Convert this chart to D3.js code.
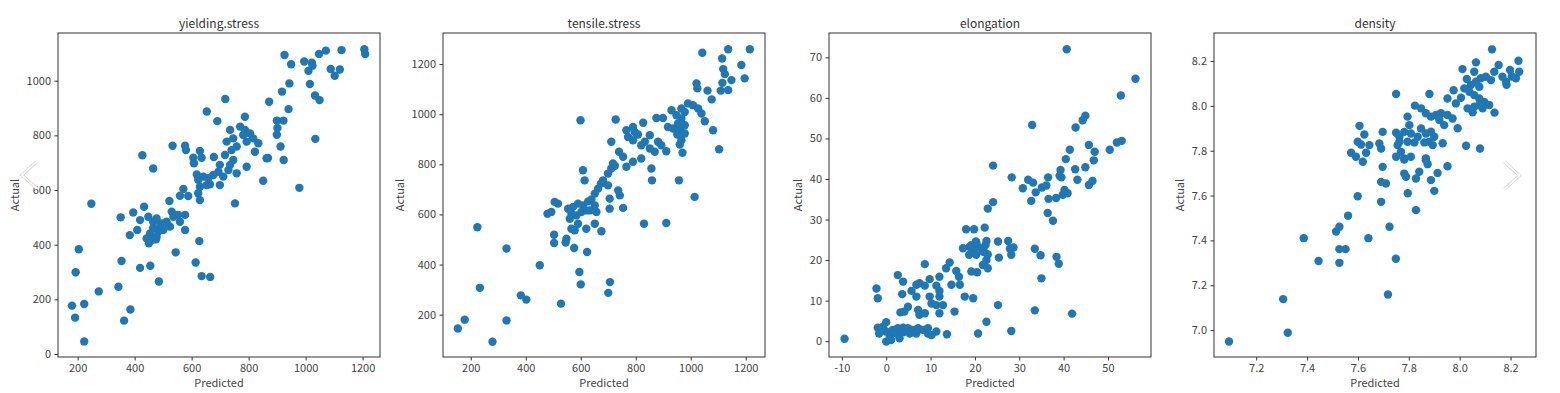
<!DOCTYPE html>
<html>
<head>
<meta charset="utf-8">
<script src="https://cdn.jsdelivr.net/npm/d3@7/dist/d3.min.js"></script>
<style>
  html, body { margin: 0; padding: 0; background: #fff; }
  svg { display: block; }
  text { font-family: "Noto Sans CJK KR", "Noto Sans", sans-serif; }
</style>
</head>
<body>
<svg id="chart" width="1560" height="393"></svg>
<script>
// ---------------- DATA ----------------
const titles = ["yielding.stress", "tensile.stress", "elongation", "density"];

// [predicted, actual]
const yieldingStress = [
[1206,1115],[1209,1098],[1126,1112],[1071,1110],[1047,1098],[926,1094],[949,1060],[995,1070],[1022,1066],[1010,1036],[1024,1055],[1088,1043],[1120,1041],[1102,1018],[1015,988],[943,990],[917,960],[1033,946],[1049,929],[872,923],[940,896],[718,933],[653,887],[899,854],[922,854],[901,827],[899,802],[1034,787],[912,759],[923,710],[868,717],[978,608],[351,500],[544,372],[354,340],[419,315],[455,323],[614,335],[635,285],[665,282],[485,265],[343,246],[274,229],[248,550],[204,383],[193,299],[180,177],[223,183],[191,133],[385,163],[363,122],[223,46],
[690,852],[787,868],[735,820],[770,832],[787,820],[805,807],[781,801],[816,789],[793,777],[746,789],[723,777],[758,759],[740,746],[834,771],[822,740],[863,716],[793,685],[851,634],[758,661],[752,551],[427,727],[465,679],[533,762],[577,762],[580,746],[629,743],[635,718],[606,718],[608,698],[678,721],[717,728],[746,710],[735,692],[699,692],[694,667],[711,649],[676,655],[658,643],[641,649],[618,657],[623,637],[629,612],[653,618],[664,621],[699,618],[729,673],[571,604],[559,579],[588,578],[623,588],[629,563],[522,560],[530,521],[433,539],[395,518],[419,490],[448,502],[465,484],[477,496],[495,478],[512,484],[536,502],[553,509],[577,509],[559,484],[524,466],[500,454],[483,448],[465,460],[454,441],[442,423],[460,417],[477,429],[409,454],[577,454],[627,413],[383,435],[450,405],[475,420],[490,470],[515,468]
];

const tensileStress = [
[1215,1259],[1136,1259],[1042,1245],[1114,1222],[1118,1180],[1124,1160],[1148,1136],[1115,1125],[1136,1096],[1109,1094],[1184,1196],[1196,1143],[1021,1123],[1024,1103],[1061,1094],[1076,1059],[1081,936],[1103,860],[970,846],[827,966],[727,979],[599,976],[711,890],[739,850],[224,549],[233,307],[330,464],[451,397],[382,277],[402,260],[528,244],[330,177],[178,180],[153,145],[279,92],[595,370],[600,321],[700,287],[706,330],[623,450],[576,466],[545,488],[503,486],
[990,1043],[1008,1036],[966,1023],[978,1009],[930,1016],[948,996],[966,983],[954,963],[978,956],[936,943],[917,949],[960,936],[951,919],[978,923],[966,896],[960,879],[1039,1003],[1051,972],[1027,1023],[875,985],[899,985],[766,936],[790,949],[796,929],[772,909],[790,896],[808,919],[851,916],[833,890],[820,876],[851,863],[881,890],[893,876],[869,850],[911,852],[754,830],[717,803],[711,783],[724,794],[699,763],[681,736],[673,723],[663,703],[651,683],[639,660],[627,652],[608,636],[590,643],[572,630],[554,623],[566,603],[584,596],[602,610],[620,616],[651,636],[657,610],[633,616],[517,643],[505,650],[493,610],[479,603],[560,583],[590,563],[566,543],[578,537],[620,543],[651,563],[675,533],[705,623],[754,626],[699,716],[736,696],[742,676],[705,663],[614,736],[608,776],[766,790],[790,810],[820,823],[857,783],[859,736],[957,736],[1014,670],[830,563],[911,566],[503,519],[548,503]
];

const elongation = [
[40.7,72.0],[56.2,64.7],[52.9,60.6],[32.9,53.3],[44.9,55.6],[44.3,54.5],[42.7,52.7],[53.1,49.4],[52.0,49.0],[50.4,47.2],[41.4,47.2],[45.7,48.4],[47.0,46.7],[46.8,44.6],[40.5,44.9],[44.9,42.9],[42.6,42.4],[43.1,39.8],[39.3,42.2],[39.1,40.8],[39.5,40.4],[46.5,39.5],[45.7,38.5],[40.2,37.3],[40.9,36.5],[39.8,36.1],[38.3,35.3],[36.5,40.4],[32.0,39.8],[33.1,39.1],[30.8,37.7],[33.7,36.7],[32.7,34.6],[35.1,37.9],[36.1,38.4],[36.6,35.1],[36.4,31.6],[37.6,29.7],[28.3,40.4],[24.1,43.3],[24.1,34.3],[22.9,32.7],[33.5,22.8],[34.8,21.2],[38.4,20.8],[38.9,19.1],[35.0,15.5],[33.5,7.6],[41.9,6.8],[-9.4,0.6],[27.9,22.8],[18.0,27.6],[19.8,27.6],[22.2,28.0],
[22.6,24.7],[20.2,24.6],[18.8,23.3],[17.3,22.9],[20.7,23.3],[19.6,22.3],[20.3,21.3],[22.2,21.9],[22.6,20.0],[21.8,18.8],[22.9,18.0],[18.7,21.3],[25.2,24.6],[27.5,24.7],[28.7,23.1],[28.2,21.3],[25.4,20.6],[19.2,17.2],[20.5,17.0],[8.7,19.0],[14.3,19.4],[13.5,18.0],[15.8,17.3],[16.4,15.9],[12.0,15.9],[9.8,15.3],[7.5,14.3],[6.8,13.9],[8.7,13.7],[11.3,13.7],[12.0,12.4],[14.7,13.9],[16.6,13.9],[2.6,16.3],[3.8,14.7],[-2.2,13.0],[-1.9,10.6],[3.6,11.6],[5.7,12.4],[6.8,11.0],[9.8,11.0],[12.0,11.0],[10.2,9.3],[11.3,8.9],[4.9,8.5],[4.1,7.3],[3.2,7.1],[7.2,7.7],[7.5,6.5],[8.7,6.9],[12.0,6.9],[12.8,8.9],[15.4,7.3],[17.7,11.0],[19.6,10.6],[25.2,8.9],[22.6,4.8],[20.7,1.9],[13.7,1.7],[28.2,2.5],
[0.0,4.7],[-0.7,3.6],[-1.9,3.3],[-1.6,1.9],[0.0,2.4],[0.8,1.1],[1.5,2.8],[2.6,3.2],[3.8,3.3],[4.9,3.2],[6.0,2.8],[7.2,3.2],[8.3,2.8],[9.4,3.2],[9.4,1.9],[6.8,1.9],[5.3,1.9],[3.8,2.2],[2.3,1.9],[1.1,0.3],[0.0,-0.1],[11.3,2.4],[10.2,1.5],[3.0,0.7],
[20.3,24.4],[22.4,23.7],[21.8,22.1],[22.9,21.4],[19.2,23.7]
];

const density = [
[7.093,6.949],[7.306,7.138],[7.324,6.988],[7.387,7.410],[7.445,7.308],[7.514,7.440],[7.527,7.461],[7.527,7.361],[7.551,7.361],[7.527,7.300],[7.561,7.510],[7.641,7.410],[7.724,7.461],[7.749,7.318],[7.718,7.159],[7.750,8.053],[7.881,8.053],[8.127,8.252],[8.231,8.201],[8.234,8.152],[8.221,8.123],[8.153,8.182],[8.198,8.160],[8.205,8.131],[8.184,8.094],[8.137,7.970],[8.080,7.810],[8.025,7.822],[7.992,7.900],[7.796,7.610],
[8.064,8.194],[8.011,8.164],[8.057,8.152],[8.136,8.152],[8.168,8.130],[8.182,8.108],[8.028,8.120],[8.044,8.093],[8.064,8.108],[8.083,8.123],[8.103,8.130],[8.123,8.115],[8.077,8.085],[8.018,8.078],[8.038,8.063],[8.057,8.048],[8.077,8.033],[8.096,8.018],[8.116,8.004],[8.077,8.004],[8.057,7.996],[8.031,7.989],[8.051,7.971],[8.090,7.989],[7.976,8.070],[7.952,8.033],[7.985,8.011],[8.005,8.036],[7.824,8.001],[7.848,7.989],[7.867,7.967],[7.887,7.952],[7.907,7.959],[7.926,7.967],[7.952,7.959],[7.972,7.944],[7.920,7.937],[7.939,7.914],[7.795,7.952],[7.802,7.914],[7.782,7.884],[7.808,7.877],[7.835,7.862],[7.848,7.899],[7.867,7.877],[7.887,7.885],[7.900,7.862],[7.880,7.840],[7.861,7.837],[7.822,7.837],[7.795,7.840],[7.763,7.862],[7.756,7.825],[7.769,7.795],[7.894,7.825],[7.933,7.833],[7.782,7.766],[7.867,7.766],
[7.606,7.911],[7.625,7.872],[7.599,7.840],[7.612,7.828],[7.645,7.825],[7.573,7.791],[7.592,7.773],[7.619,7.751],[7.632,7.791],[7.684,7.832],[7.691,7.810],[7.697,7.884],[7.750,7.880],[7.763,7.840],[7.750,7.773],[7.782,7.761],[7.808,7.773],[7.697,7.728],[7.691,7.661],[7.710,7.654],[7.599,7.597],[7.691,7.572],[7.828,7.535],[7.782,7.698],[7.789,7.684],[7.841,7.706],[7.828,7.676],[7.867,7.758],[7.874,7.740],[7.913,7.701],[7.887,7.669],[7.900,7.621],[7.952,7.731]
];

const xTicks = [
  [200,400,600,800,1000,1200],
  [200,400,600,800,1000,1200],
  [-10,0,10,20,30,40,50],
  [7.2,7.4,7.6,7.8,8.0,8.2]
];
const yTicks = [
  [0,200,400,600,800,1000],
  [200,400,600,800,1000,1200],
  [0,10,20,30,40,50,60,70],
  [7.0,7.2,7.4,7.6,7.8,8.0,8.2]
];
const xDomains = [[131,1261],[99,1270],[-12.9,59.7],[7.034,8.300]];
const yDomains = [[-11,1174.5],[31,1324],[-3.9,76],[6.88,8.325]];
const tickDecimals = [0,0,0,1];

const xLabel = "Predicted";
const yLabel = "Actual";

// ---------------- LAYOUT ----------------
const series = [yieldingStress, tensileStress, elongation, density];
const lefts = [58, 443, 829, 1214];
const plotW = 322, plotTop = 33, plotH = 324;
const dotColor = "#1f77b4";
const ink = "#333";

const svg = d3.select("#chart");
svg.append("rect").attr("width",1560).attr("height",393).attr("fill","#fff");

series.forEach((pts, i) => {
  const x = d3.scaleLinear().domain(xDomains[i]).range([0, plotW]);
  const y = d3.scaleLinear().domain(yDomains[i]).range([plotH, 0]);
  const fmt = v => {
    const s = v.toFixed(tickDecimals[i]);
    return s;
  };
  const g = svg.append("g").attr("transform", `translate(${lefts[i]},${plotTop})`);

  // points
  g.append("g").selectAll("circle").data(pts).join("circle")
    .attr("cx", d => x(d[0]))
    .attr("cy", d => y(d[1]))
    .attr("r", 4.2)
    .attr("fill", dotColor);

  // frame
  g.append("rect").attr("x",0).attr("y",0).attr("width",plotW).attr("height",plotH)
    .attr("fill","none").attr("stroke",ink).attr("stroke-width",1);

  // axes
  const xa = g.append("g").attr("transform",`translate(0,${plotH})`)
    .call(d3.axisBottom(x).tickValues(xTicks[i]).tickFormat(fmt).tickSize(3.5).tickPadding(3.5));
  const ya = g.append("g")
    .call(d3.axisLeft(y).tickValues(yTicks[i]).tickFormat(fmt).tickSize(3.5).tickPadding(3.5));
  [xa, ya].forEach(a => {
    a.select(".domain").remove();
    a.selectAll(".tick line").attr("stroke", ink);
    a.selectAll(".tick text").attr("fill", "#444")
      .style("font-size","11px")
      .style("font-family",'"Noto Sans CJK KR", "Noto Sans", sans-serif');
  });

  // title
  g.append("text").attr("x", plotW/2).attr("y", -5).attr("text-anchor","middle")
    .attr("fill", ink).style("font-size","12px").text(titles[i]);

  // x label
  g.append("text").attr("x", plotW/2).attr("y", plotH + 30).attr("text-anchor","middle")
    .attr("fill", "#444").style("font-size","11px").text(xLabel);

  // y label
  let maxW = 0;
  ya.selectAll(".tick text").each(function(){ maxW = Math.max(maxW, this.getBBox().width); });
  const lx = -(maxW + 20);
  g.append("text").attr("transform",`translate(${lx},${plotH/2}) rotate(-90)`)
    .attr("text-anchor","middle").attr("dominant-baseline","central")
    .attr("fill", "#444").style("font-size","11px").text(yLabel);
});

// carousel chevrons overlay
const chev = [
  [[36.7,161.7],[22,175],[36.7,188.3]],
  [[1504.3,161.7],[1519.5,175.5],[1504.3,189.3]]
];
chev.forEach(c => {
  svg.append("path").attr("d", d3.line()(c)).attr("fill","none")
    .attr("stroke","#d9d9d9").attr("stroke-width",3.2).attr("stroke-linejoin","miter");
  svg.append("path").attr("d", d3.line()(c)).attr("fill","none")
    .attr("stroke","#ffffff").attr("stroke-width",1.6);
});
</script>
</body>
</html>
